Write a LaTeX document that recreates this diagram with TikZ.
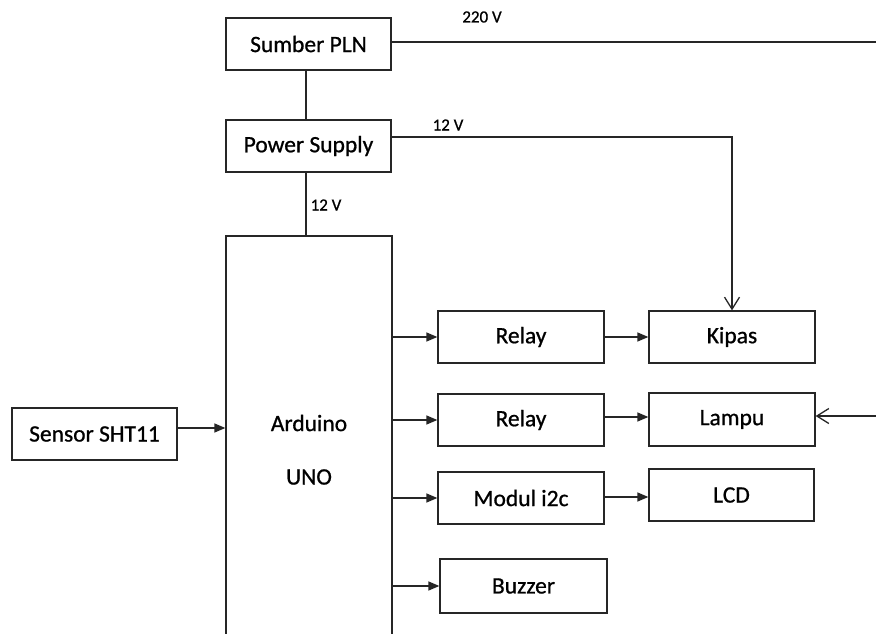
\documentclass[tikz,border=0pt]{standalone}
\usepackage{fontspec}
\setmainfont{Carlito}[RawFeature={embolden=0.8}]
\usetikzlibrary{arrows.meta}
\begin{document}
\begin{tikzpicture}[x=1pt,y=-1pt,
  box/.style={draw=black!85,line width=1.3pt,rectangle,inner sep=0pt,
    minimum width=165pt,minimum height=52pt,font=\fontsize{23.5}{27}\selectfont},
  lbl/.style={inner sep=0pt,font=\fontsize{17}{20}\selectfont},
  txt/.style={inner sep=0pt,font=\fontsize{23.5}{27}\selectfont},
  conn/.style={draw=black!85,line width=1.4pt},
  arr/.style={conn,-{Triangle[length=11pt,width=9pt]}},
  oarr/.style={conn,-{Straight Barb[length=12pt,width=15pt,line width=1.3pt]}}]
\useasboundingbox (0,0) rectangle (876,633);
\clip (0,0) rectangle (876,633);
\fill[white] (0,0) rectangle (876,633);
\node[box] (pln) at (308.5,44) {Sumber PLN};
\node[box] (ps) at (308.5,146) {Power Supply};
\node[box,minimum width=166pt,minimum height=500pt] (ard) at (309,486) {};
\node[txt] (ardt) at (309,423) {Arduino};
\node[txt] (unot) at (309,477) {UNO};
\node[box] (sens) at (94.5,434) {Sensor SHT11};
\node[box,minimum width=166pt] (r1) at (521,337) {Relay};
\node[box,minimum width=166pt] (r2) at (521,420) {Relay};
\node[box,minimum width=166pt] (mod) at (521,498) {Modul i2c};
\node[box,minimum width=167pt,minimum height=54pt] (buz) at (523.5,586) {Buzzer};
\node[box,minimum width=166pt] (kip) at (732,337) {Kipas};
\node[box,minimum width=166pt,minimum height=53pt] (lam) at (732,419.5) {Lampu};
\node[box] (lcd) at (731.5,495) {LCD};
\node[lbl] (l220) at (482,17) {220 V};
\node[lbl] (l12a) at (448,125) {12 V};
\node[lbl] (l12b) at (326,205) {12 V};
\coordinate (e220) at (876,42);
\coordinate (elam) at (876,416);
\coordinate (psout) at (391,137);
\coordinate (sout) at (177,428);
\coordinate (vx) at (306,0);
% connectors
\draw[conn] (pln.south -| vx) -- (ps.north -| vx);
\draw[conn] (ps.south -| vx) -- (ard.north -| vx);
\draw[conn] (pln.east |- e220) -- (e220);
\draw[oarr] (psout) -| (kip.north);
\draw[arr] (sout) -- (sout -| ard.west);
\draw[arr] (ard.east |- r1.west) -- (r1.west);
\draw[arr] (ard.east |- r2.west) -- (r2.west);
\draw[arr] (ard.east |- mod.west) -- (mod.west);
\draw[arr] (ard.east |- buz.west) -- (buz.west);
\draw[arr] (r1.east) -- (r1.east -| kip.west);
\draw[arr] ([yshift=3pt]r2.east) -- ([yshift=3pt]r2.east -| lam.west);
\draw[arr] ([yshift=1pt]mod.east) -- ([yshift=1pt]mod.east -| lcd.west);
\draw[oarr] (elam) -- (elam -| lam.east);
\end{tikzpicture}
\end{document}
